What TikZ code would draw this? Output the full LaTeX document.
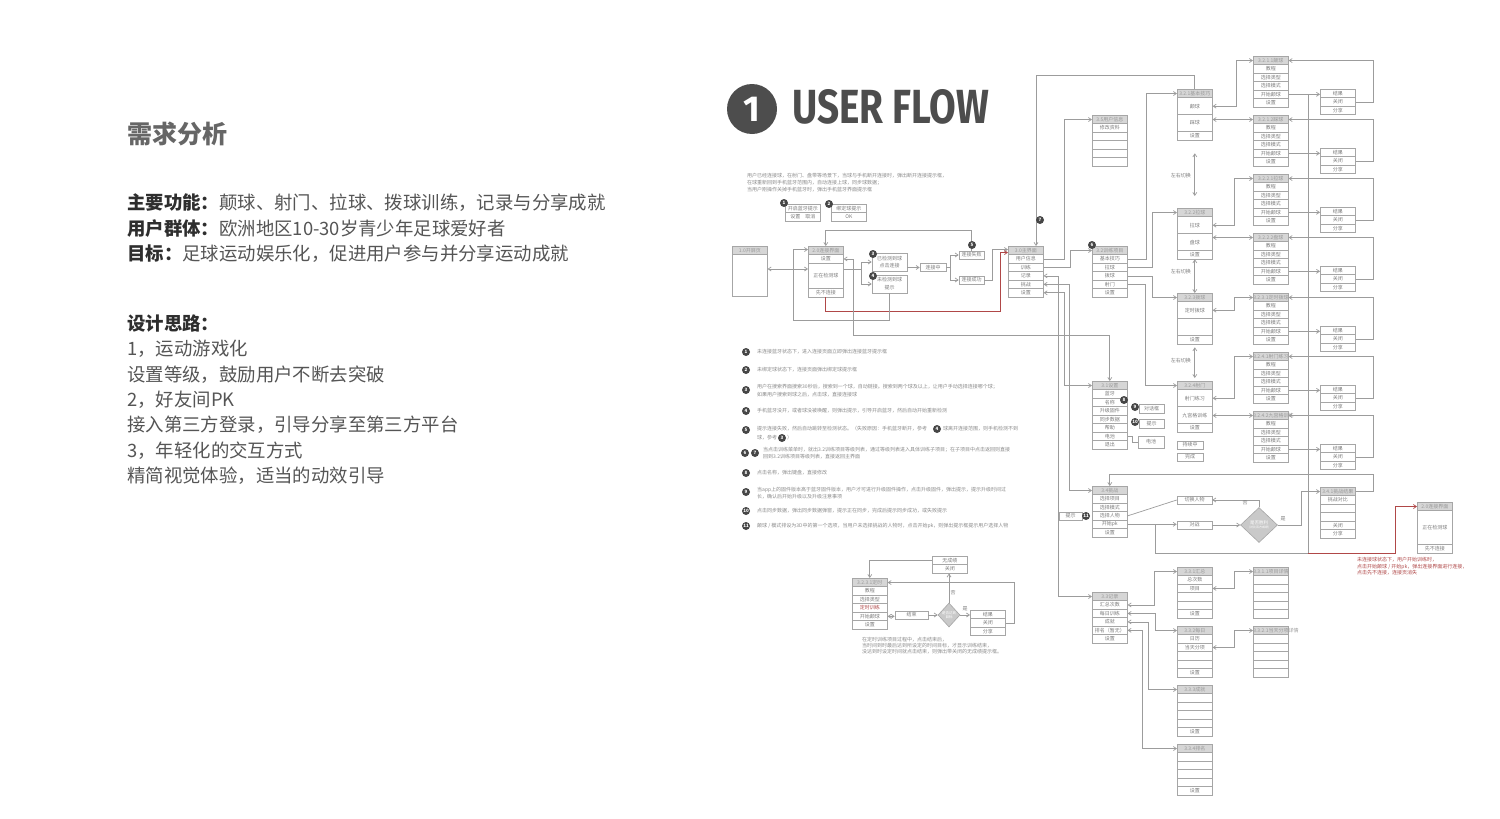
\documentclass[tikz,border=0pt]{standalone}
\usepackage{graphicx}
\usepackage{fontspec}
\setmainfont{Noto Sans CJK SC}
\newfontfamily\titlefont{Fira Sans}
\usetikzlibrary{arrows.meta,shapes.geometric}
\definecolor{lc}{HTML}{9C9C9C}
\definecolor{bc}{HTML}{A6A6A6}
\definecolor{hf}{HTML}{D6D6D6}
\definecolor{htc}{HTML}{9A9A9A}
\definecolor{tc}{HTML}{7C7C7C}
\definecolor{ntc}{HTML}{8A8A8A}
\definecolor{rc}{HTML}{B04848}
\definecolor{bdg}{HTML}{464646}
\definecolor{dgc}{HTML}{C9C9C9}
\definecolor{body}{HTML}{555555}
\definecolor{lab}{HTML}{2E2E2E}
\definecolor{hd}{HTML}{666666}
\definecolor{ttl}{HTML}{4D4D4D}
\newcommand\fsz[1]{\fontsize{#1}{#1}\selectfont}
\def\rowh{8.45}
\newcommand\uibox[5]{%
  \node[hdr,anchor=north west] (#1) at (#2,#3) {#4};%
  \pgfmathsetmacro\uicury{#3+\rowh}\global\let\uicury\uicury
  \foreach \rowm/\rowt [count=\rowi] in {#5}{%
    \pgfmathsetmacro\uihh{\rowm*\rowh}%
    \node[rowb,anchor=north west,minimum height=\uihh pt] (#1-\rowi) at (#2,\uicury) {\rowt};%
    \pgfmathsetmacro\uinew{\uicury+\uihh}\global\let\uicury\uinew
  }%
}
\newcommand\uirbox[4]{%
  \xdef\uicury{#3}%
  \foreach \rowm/\rowt [count=\rowi] in {#4}{%
    \pgfmathsetmacro\uihh{\rowm*\rowh}%
    \node[rowb,anchor=north west,minimum height=\uihh pt] (#1-\rowi) at (#2,\uicury) {\rowt};%
    \pgfmathsetmacro\uinew{\uicury+\uihh}\global\let\uicury\uinew
  }%
}
\tikzset{
 fline/.style={draw=lc, line width=0.7pt},
 farrow/.style={fline, -{Straight Barb[length=3pt,width=4pt]}},
 darrow/.style={fline, {Straight Barb[length=3pt,width=4pt]}-{Straight Barb[length=3pt,width=4pt]}},
 hdr/.style={draw=bc, fill=hf, line width=0.6pt, inner sep=0pt, text width=35pt, align=center, minimum height=\rowh pt, font=\fsz{5}, text=htc},
 rowb/.style={draw=bc, fill=white, line width=0.6pt, inner sep=0pt, text width=35pt, align=center, font=\fsz{5}, text=tc},
 sbox/.style={draw=bc, fill=white, line width=0.6pt, inner sep=0pt, minimum height=8pt, font=\fsz{5}, text=tc},
 badge/.style={circle, fill=bdg, text=white, inner sep=0pt, minimum size=8pt, font=\fsz{4.5}\bfseries},
 note/.style={anchor=west, inner sep=0pt, font=\fsz{5}, text=ntc},
 lbl/.style={inner sep=0pt, font=\fsz{5}, text=tc},
 dia/.style={diamond, draw=bc, fill=dgc, line width=0.6pt, inner sep=0pt, align=center, font=\fsz{4.5}, text=white},
 lt/.style={anchor=west, inner sep=0pt, font=\fsz{18.4}, text=body},
}
\begin{document}
\begin{tikzpicture}[x=1pt,y=-1pt]
\fill[white] (0,0) rectangle (1500,819);
\useasboundingbox (0,0) rectangle (1500,819);

% ---------- left column ----------
\node[lt, font=\fsz{25}\bfseries, text=hd] (t0) at (127,134) {需求分析};
\node[lt] (t1) at (127,203) {{\bfseries\color{lab}主要功能：}颠球、射门、拉球、拨球训练，记录与分享成就};
\node[lt] (t2) at (127,228.5) {{\bfseries\color{lab}用户群体：}欧洲地区10-30岁青少年足球爱好者};
\node[lt] (t3) at (127,254) {{\bfseries\color{lab}目标：}足球运动娱乐化，促进用户参与并分享运动成就};
\node[lt, font=\fsz{18.4}\bfseries, text=lab] (t4) at (127,324) {设计思路：};
\node[lt] (t5) at (127,349) {1，运动游戏化};
\node[lt] (t6) at (127,374.5) {设置等级，鼓励用户不断去突破};
\node[lt] (t7) at (127,400) {2，好友间PK};
\node[lt] (t8) at (127,425) {接入第三方登录，引导分享至第三方平台};
\node[lt] (t9) at (127,450.5) {3，年轻化的交互方式};
\node[lt] (t10) at (127,476) {精简视觉体验，适当的动效引导};

% ---------- title ----------
\node[circle, fill=ttl, minimum size=50pt, inner sep=0pt, text=white, font=\titlefont\bfseries\fsz{36}] (one) at (752,109) {1};
\node[anchor=west, inner sep=0pt, text=ttl] (ttl) at (792,107) {\resizebox{197pt}{34pt}{\titlefont\bfseries USER FLOW}};

% ---------- description ----------
\node[note] (d1) at (747,176) {用户已经连接球，在射门、盘带等场景下，当球与手机断开连接时，弹出断开连接提示框，};
\node[note] (d2) at (747,183) {在球重新回到手机蓝牙范围内，自动连接上球，同步球数据；};
\node[note] (d3) at (747,190) {当用户刚操作关掉手机蓝牙时，弹出手机蓝牙界面提示框};

% ---------- connection flow ----------
\uirbox{p1}{785}{204}{1/开启蓝牙提示,1/设置\quad 取消}
\uirbox{p2}{831}{204}{1/绑定球提示,1/OK}
\uibox{b10}{732}{246}{1.0开屏页}{4.92/{}}
\uibox{b20}{808}{246}{2.0连接界面}{1/设置,3/正在检测球,1/先不连接}
\node[sbox, minimum width=35pt, minimum height=18pt, align=center, font=\fontsize{5}{7}\selectfont] (b3) at (889.5,262) {已检测到球\\点击连接};
\node[sbox, minimum width=35pt, minimum height=18pt, align=center, font=\fontsize{5}{8}\selectfont] (b4) at (889.5,284) {未检测到球\\提示};
\node[sbox, minimum width=26pt] (bjz) at (933,267.5) {连接中};
\node[sbox, minimum width=25pt] (bsb) at (971.5,255) {连接失败};
\node[sbox, minimum width=25pt] (bcg) at (971.5,280) {连接成功};

% ---------- main ----------
\uibox{b30}{1008}{246}{3.0主界面}{1/用户信息,1/训练,1/记录,1/挑战,1/设置}
\uibox{b35}{1092}{115}{3.5用户信息}{1/修改资料,1/{},1/{},1/{},1/{}}
\uibox{b32}{1092}{246}{3.2训练项目}{1/基本技巧,1/拉球,1/拨球,1/射门,1/设置}
\uibox{b31}{1092}{381}{3.1设置}{1/蓝牙,1/名称,1/升级固件,1/同步数据,1/帮助,1/电池,1/退出}
\uibox{b34}{1092}{486}{3.4挑战}{1/选择项目,1/选择模式,1/选择人物,1/开始pk,1/设置}
\uibox{b33}{1092}{592}{3.3记录}{1/汇总次数,1/每日训练,1/成就,1/排名（暂无）,1/设置}

% ---------- training ----------
\uibox{b321}{1177}{89}{3.2.1基本技巧}{2/颠球,2/踩球,1/设置}
\uibox{b322}{1177}{208}{3.2.2拉球}{2/拉球,2/盘球,1/设置}
\uibox{b323}{1177}{293}{3.2.3拨球}{2/定时拨球,2/{},1/设置}
\uibox{b324}{1177}{381}{3.2.4射门}{2/射门练习,2/九宫格训练,1/设置}
\node[sbox, minimum width=26pt] (bcx) at (1190,445) {持续中};
\node[sbox, minimum width=26pt] (bwcx) at (1190,457) {完成};

\uibox{L1}{1253}{56}{3.2.1.1颠球}{1/教程,1/选择类型,1/选择模式,1/开始颠球,1/设置}
\uibox{L2}{1253}{115}{3.2.1.2踩球}{1/教程,1/选择类型,1/选择模式,1/开始颠球,1/设置}
\uibox{L3}{1253}{174}{3.2.2.1拉球}{1/教程,1/选择类型,1/选择模式,1/开始颠球,1/设置}
\uibox{L4}{1253}{233}{3.2.2.2盘球}{1/教程,1/选择类型,1/选择模式,1/开始颠球,1/设置}
\uibox{L5}{1253}{293}{3.2.3.1定时拨球}{1/教程,1/选择类型,1/选择模式,1/开始颠球,1/设置}
\uibox{L6}{1253}{352}{3.2.4.1射门练习}{1/教程,1/选择类型,1/选择模式,1/开始颠球,1/设置}
\uibox{L7}{1253}{411}{3.2.4.2九宫格训练}{1/教程,1/选择类型,1/选择模式,1/开始颠球,1/设置}
\uirbox{R1}{1320}{89}{1/结果,1/关闭,1/分享}
\uirbox{R2}{1320}{148}{1/结果,1/关闭,1/分享}
\uirbox{R3}{1320}{207}{1/结果,1/关闭,1/分享}
\uirbox{R4}{1320}{266}{1/结果,1/关闭,1/分享}
\uirbox{R5}{1320}{326}{1/结果,1/关闭,1/分享}
\uirbox{R6}{1320}{385}{1/结果,1/关闭,1/分享}
\uirbox{R7}{1320}{444}{1/结果,1/关闭,1/分享}

% ---------- settings extras ----------
\node[sbox, minimum width=25pt, minimum height=9pt] (bdh) at (1151.5,408.5) {对话框};
\node[sbox, minimum width=25pt, minimum height=9pt] (bts) at (1151.5,423.5) {提示};
\node[sbox, minimum width=26pt, minimum height=12pt] (bdc) at (1151,442) {电池};

% ---------- challenge ----------
\node[sbox, minimum width=23pt] (btp) at (1070.5,516) {提示};
\node[sbox, minimum width=35pt] (bqh) at (1194.5,500) {切换人物};
\node[sbox, minimum width=35pt] (bdz) at (1194.5,525) {对战};
\node[dia, minimum width=37pt, minimum height=35pt] (dm1) at (1259,525) {是否胜利\\{\fsz{3}(对比双方成绩)}};
\uibox{b341}{1320}{487}{3.4.1挑战结果}{1/挑战对比,1/{},1/{},1/关闭,1/分享}
\uibox{b20b}{1417}{502}{2.0连接界面}{4/正在检测球,1/先不连接}
\node[note, text=rc] (r1) at (1357,560) {未连接球状态下，用户开始训练时，};
\node[note, text=rc] (r2) at (1357,566.5) {点击开始颠球 / 开始pk，弹出连接界面进行连接，};
\node[note, text=rc] (r3) at (1357,573) {点击先不连接，连接页消失};

% ---------- records ----------
\uibox{b331}{1177}{567}{3.3.1汇总}{1/总次数,1/项目,1/{},1/{},1/设置}
\uibox{b3311}{1253}{567}{3.3.1.1项目详情}{1/{},1/{},1/{},1/{},1/{}}
\uibox{b332}{1177}{626}{3.3.2每日}{1/日历,1/当天分项,1/{},1/{},1/设置}
\uibox{b3321}{1253}{626}{3.3.2.1当天分项详情}{1/{},1/{},1/{},1/{},1/{}}
\uibox{b333}{1177}{685}{3.3.3成就}{1/{},1/{},1/{},1/{},1/设置}
\uibox{b334}{1177}{744}{3.3.4排名}{1/{},1/{},1/{},1/{},1/设置}

% ---------- lower-left timed training ----------
\uibox{bll}{852}{578}{3.2.3.1定时}{1/教程,1/选择类型,1/{\color{rc}定时训练},1/开始颠球,1/设置}
\node[sbox, minimum width=33pt] (bjs) at (911.5,615) {结束};
\node[dia, minimum width=22pt, minimum height=24pt, font=\fsz{3.5}] (dm2) at (949,615) {是否达到\\目标};
\uirbox{bwc}{932}{556}{1/无成绩,1/关闭}
\uirbox{brr}{970}{610}{1/结果,1/关闭,1/分享}
\node[note] (e1) at (862,640) {在定时训练项目过程中，点击结束后，};
\node[note] (e2) at (862,646) {当时间到时最后达到所设定的时间目标，才显示训练结束，};
\node[note] (e3) at (862,652) {没达到时设定时间就点击结束，则弹出带关闭的无成绩提示框。};

% ---------- connectors: connection ----------
\coordinate (c1) at (0,269);
\draw[darrow] (b10-1.east |- c1) -- (b20-2.west |- c1);
\draw[farrow] (b20-2.east |- c1) -- ++(18,0) |- (b3.west);
\draw[farrow] (b20-2.east |- c1) -- ++(18,0) |- (b4.west);
\draw[farrow] (b3.east |- bjz.west) -- (bjz.west);
\draw[farrow] (bjz.east) -- ++(4,0) |- (bsb.west);
\draw[farrow] (bjz.east) -- ++(4,0) |- (bcg.west);
\coordinate (c2) at (0,230);
\draw[farrow] (bsb.north) -- (bsb.north |- c2) -| (b20.north);
\draw[farrow] (bcg.east) -- ++(8,0) |- ([yshift=1pt]b30.west);
\coordinate (c3) at (1000,311);
\draw[farrow, draw=rc] (b20-3.south) |- (c3) |- ([yshift=-2pt]b30.west);
\coordinate (c4) at (793,320);
\draw[farrow] (b4.south) |- (c4) |- ([yshift=1pt]b20.west);
\coordinate (c5) at (853,335);
\draw[darrow] (b20-1.east) -| (c5) -| (b31.north);

% ---------- connectors: main ----------
\draw[farrow] (b30-1.east) -- ++(21,0) |- (b35.west);
\draw[farrow] (b30-2.east) -- ++(27,0) |- (b32.west);
\draw[darrow] (b30-3.east) -- ++(15,0) |- (b33.west);
\draw[darrow] (b30-4.east) -- ++(26,0) |- (b34.west);
\draw[darrow] (b30-5.east) -- ++(21,0) |- (b31.west);

\draw[farrow] (b32-1.east) -- ++(19,0) |- (b321.west);
\draw[farrow] (b32-2.east) -- ++(25,0) |- (b322.west);
\draw[farrow] (b32-3.east) -- ++(25,0) |- (b323.west);
\draw[farrow] (b32-4.east) -- ++(18,0) |- (b324.west);

\draw[darrow] ([yshift=-13pt]b321-3.south) -- ([yshift=12pt]b322.north);
\draw[darrow] (b322-3.south) -- (b323.north);
\draw[darrow] ([yshift=-3pt]b323-3.south) -- ([yshift=3pt]b324.north);
\node[lbl, anchor=east] (s1) at (1191,176) {左右切换};
\node[lbl, anchor=east] (s2) at (1191,272) {左右切换};
\node[lbl, anchor=east] (s3) at (1191,361) {左右切换};

\coordinate (c6) at (1036,75);
\draw[farrow] (b321.north) |- (c6) -- (c6 |- b30.north);

\draw[darrow] (b321-1.east) -- ++(24,0) |- (L1.west);
\draw[darrow] (b321-2.east |- L2.west) -- (L2.west);
\draw[darrow] (b322-1.east) -- ++(22,0) |- (L3.west);
\draw[darrow] (b322-2.east |- L4.west) -- (L4.west);
\draw[darrow] (b323-1.east) -- ++(22,0) |- (L5.west);
\draw[darrow] (b324-1.east) -- ++(22,0) |- (L6.west);
\draw[darrow] (b324-2.east |- L7.west) -- (L7.west);

\coordinate (v1) at (1308,553);
\draw[fline] (L1-4.east -| v1) -- (v1);
\foreach \k in {1,...,7}{
  \draw[farrow] (L\k-4.east) -- (R\k-1.west |- L\k-4.east);
  \draw[farrow] (R\k-2.east) -- ++(18,0) |- (L\k.east);
}
\coordinate (c7) at (1395,553);
\draw[fline] (b34-4.east) -- ++(28,0) |- (v1);
\draw[farrow, draw=rc] (v1) -- (c7) |- (b20b.west);

% ---------- connectors: challenge ----------
\draw[farrow] (b34-4.east) -- (bdz.west |- b34-4.east);
\draw[farrow] (bdz.east) -- (dm1.west);
\draw[farrow] (dm1.north) |- (bqh.east);
\draw[fline] (b34-3.east) -- (bqh.west);
\draw[farrow] (dm1.east) -- ++(24,0) |- (b341.west);
\coordinate (c8) at (1373,474);
\draw[farrow] (b341.east) -| (c8) -| (b34.north);
\node[lbl] (y1) at (1245,503) {否};
\node[lbl] (y2) at (1283,519) {是};

% ---------- connectors: settings ----------
\draw[fline] (b31-6.east) -- ++(5,0) |- (bdc.west);

% ---------- connectors: records ----------
\draw[darrow] (b33-1.east) -- ++(27,0) |- (b331.west);
\draw[darrow] (b33-2.east) -- ++(28,0) |- (b332.west);
\draw[darrow] (b33-3.east) -- ++(21,0) |- (b333.west);
\draw[darrow] (b33-4.east) -- ++(15,0) |- (b334.west);
\draw[darrow] (b331-2.east) -- ++(22,0) |- (b3311.west);
\draw[darrow] (b332-2.east) -- ++(22,0) |- (b3321.west);

% ---------- connectors: timed training ----------
\draw[darrow] (bll-4.east) -- (bjs.west |- bll-4.east);
\draw[farrow] (bjs.east) -- (dm2.west);
\draw[farrow] (dm2.north) -- (dm2.north |- bwc-2.south);
\draw[farrow] (dm2.east) -- (brr-1.west |- dm2.east);
\draw[farrow] (brr-2.east) -- ++(9,0) |- (bll.east);
\draw[farrow] (bwc-1.west) -| (bll.north);
\node[lbl] (y3) at (953,593) {否};
\node[lbl] (y4) at (965,609) {是};

% ---------- badges ----------
\node[badge] (g1) at (784,203) {1};
\node[badge] (g2) at (829,204) {2};
\node[badge] (g3) at (873,254) {3};
\node[badge] (g4) at (873,276) {4};
\node[badge] (g5) at (972,245) {5};
\node[badge] (g6) at (1092,245) {6};
\node[badge] (g7) at (1040,220) {7};
\node[badge] (g8) at (1124,400) {8};
\node[badge] (g9) at (1135,407) {9};
\node[badge] (g10) at (1135,422) {10};
\node[badge] (g11) at (1086,516) {11};

% ---------- notes ----------
\node[badge] (n1) at (746,352) {1};
\node[note] (m1) at (757,352) {未连接蓝牙状态下，进入连接页面立即弹出连接蓝牙提示框};
\node[badge] (n2) at (746,370) {2};
\node[note] (m2) at (757,370) {未绑定球状态下，连接页面弹出绑定球提示框};
\node[badge] (n3) at (746,390) {3};
\node[note] (m3a) at (757,387) {用户在搜索界面搜索30秒后，搜索到一个球，自动链接。搜索到两个球及以上，让用户手动选择连接哪个球；};
\node[note] (m3b) at (757,395) {如果用户搜索到球之后，点击球，直接连接球};
\node[badge] (n4) at (746,411) {4};
\node[note] (m4) at (757,411) {手机蓝牙没开，或者球没被唤醒，则弹出提示，引导开启蓝牙，然后自动开始重新检测};
\node[badge] (n5) at (746,430) {5};
\node[note] (m5a) at (757,429) {提示连接失败，然后自动跳转至检测状态。（失败原因：手机蓝牙断开，参考};
\node[badge] (n5b) at (937,429) {4};
\node[note] (m5c) at (943,429) {球离开连接范围，则手机检测不到};
\node[note] (m5d) at (757,438) {球，参考};
\node[badge] (n5e) at (782,438) {3};
\node[note] (m5f) at (787,438) {）};
\node[badge] (n6) at (745,453) {6};
\node[badge] (n7) at (755,453) {7};
\node[note] (m6a) at (763,450) {当点击训练菜单时，就出3.2训练项目等级列表，通过等级列表进入具体训练子项目；在子项目中点击返回则直接};
\node[note] (m6b) at (763,457) {回到3.2训练项目等级列表，直接返回主界面};
\node[badge] (n8) at (746,473) {8};
\node[note] (m8) at (757,473) {点击名称，弹出键盘，直接修改};
\node[badge] (n9) at (746,492) {9};
\node[note] (m9a) at (757,490) {当app上的固件版本高于蓝牙固件版本，用户才可进行升级固件操作，点击升级固件，弹出提示，提示升级时间过};
\node[note] (m9b) at (757,497) {长，确认后开始升级以及升级注意事项};
\node[badge] (n10) at (746,511) {10};
\node[note] (m10) at (757,511) {点击同步数据，弹出同步数据弹窗，提示正在同步，完成后提示同步成功，或失败提示};
\node[badge] (n11) at (746,526) {11};
\node[note] (m11) at (757,526) {颠球 / 模式排设为3D中的第一个选项，当用户未选择挑战的人物时，点击开始pk，则弹出提示框提示用户选择人物};
\end{tikzpicture}
\end{document}
